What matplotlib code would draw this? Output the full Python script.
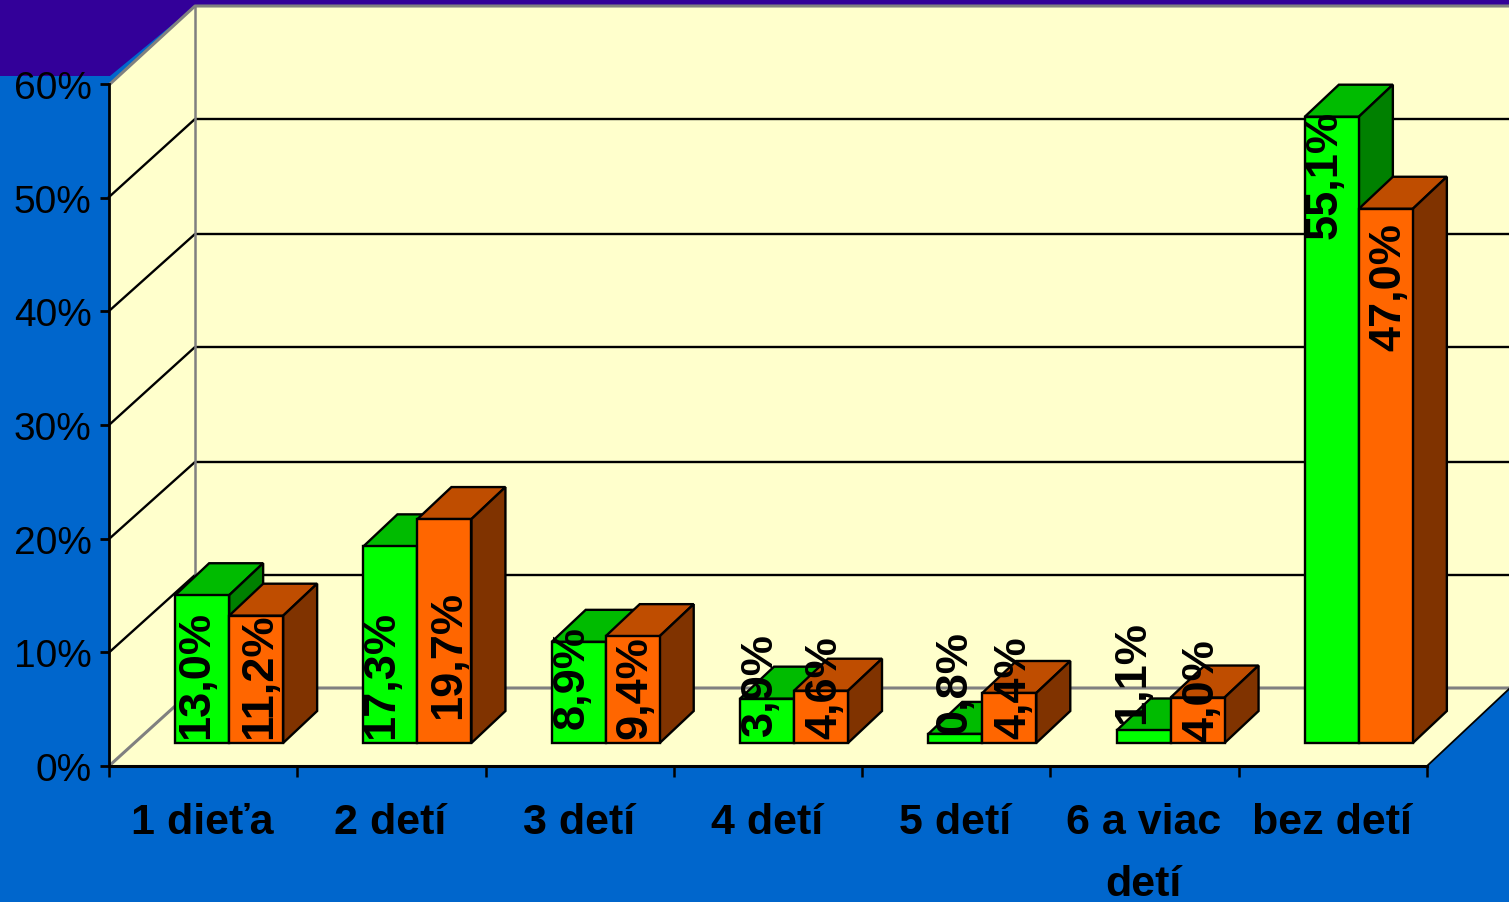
import matplotlib
matplotlib.use("Agg")
import matplotlib.pyplot as plt
import numpy as np

categories = ["1 dieťa", "2 detí", "3 detí", "4 detí", "5 detí", "6 a viac\ndetí", "bez detí"]
green_vals = [13.0, 17.3, 8.9, 3.9, 0.8, 1.1, 55.1]
orange_vals = [11.2, 19.7, 9.4, 4.6, 4.4, 4.0, 47.0]
green_labels = ["13,0%", "17,3%", "8,9%", "3,9%", "0,8%", "1,1%", "55,1%"]
orange_labels = ["11,2%", "19,7%", "9,4%", "4,6%", "4,4%", "4,0%", "47,0%"]
y_ticks = [0, 10, 20, 30, 40, 50, 60]

# label bottoms in pixels from the top of the image
green_lab_y = [739, 739, 729, 736, 734, 724, 239]
orange_lab_y = [739, 719, 739, 739, 739, 742, 351]
green_lab_x = [197, 382, 572, 760, 955, 1133, 1325]
orange_lab_x = [260, 449, 635, 825, 1014, 1202, 1389]

W, H = 1509, 903
plt.rcParams['font.family'] = ['Liberation Sans', 'DejaVu Sans']

fig = plt.figure(figsize=(W / 100, H / 100), dpi=100, facecolor='#0066CC')
# pixel overlay for wall and background
bg = fig.add_axes([0, 0, 1, 1], zorder=0)
bg.set_xlim(0, W)
bg.set_ylim(H, 0)
bg.axis('off')
bg.fill([0, 1509, 1509, 195, 110, 0], [0, 0, 7, 7, 77, 77], color='#330099', lw=0)
wall = '#FFFFCC'
bg.fill([195, 1509, 1509, 1427, 109, 109], [7, 7, 690, 767, 767, 85], color=wall, lw=0)
back_y = [689, 576, 463, 348, 235, 120]
front_y = [767, 653.5, 540, 426, 312, 198]
for yf, yb in zip(front_y[1:], back_y[1:]):
    bg.plot([109, 195, 1509], [yf, yb, yb], color='k', lw=1.7)
bg.plot([195, 195], [7, 689], color='#808080', lw=1.8)
bg.plot([109, 195, 1509], [767, 689, 689], color='#808080', lw=2.2)
bg.plot([110, 195, 1509], [85, 7, 7], color='#808080', lw=2.2)
bg.plot([1427, 1509], [767, 690], color='k', lw=1.3)

# main axes, front edge of the floor
ax = fig.add_axes([109 / W, 1 - 767 / H, (1427 - 109) / W, (767 - 85) / H], zorder=1)
ax.set_xlim(0, 7)
ax.set_ylim(0, 60)
ax.patch.set_alpha(0)
for s in ['top', 'right']:
    ax.spines[s].set_visible(False)
ax.spines['left'].set_linewidth(2)
ax.spines['bottom'].set_linewidth(2.2)

px = 7 / (1427 - 109)
py = 60 / (767 - 85)
bw = 54 * px
base = 23 * py
x0 = 26 * px
dx = 34 * px
dy = 32 * py
xc = np.arange(7) + 0.5 + x0
lw = 1.7


def draw_bars(xl, vals, front, top, side):
    for x, v in zip(xl, vals):
        t = v + base
        ax.fill([x, x + dx, x + bw + dx, x + bw], [t, t + dy, t + dy, t], facecolor=top, edgecolor='k', lw=lw,
                zorder=3, clip_on=False)
        ax.fill([x + bw, x + bw + dx, x + bw + dx, x + bw], [base, base + dy, t + dy, t], facecolor=side,
                edgecolor='k', lw=lw, zorder=3, clip_on=False)
    ax.bar(xl, vals, bw, bottom=base, align='edge', facecolor=front, edgecolor='k', lw=lw, zorder=4, clip_on=False)


for i in range(7):
    draw_bars([xc[i] - bw], [green_vals[i]], '#00FF00', '#00BB00', '#008000')
    draw_bars([xc[i]], [orange_vals[i]], '#FF6600', '#BF4D00', '#803300')

ax.set_xticks(np.arange(8))
ax.set_xticklabels([])
ax.set_yticks(y_ticks)
ax.set_yticklabels([f"{v}%" for v in y_ticks], fontsize=28, color='k')
ax.tick_params(axis='y', length=6.5, width=2, pad=6)
ax.tick_params(axis='x', length=8, width=1.8, direction='out')

for i, c in enumerate(categories):
    bg.text(i * 188.3 + 202, 803, c, ha='center', va='top', fontsize=31, fontweight='bold',
            color='k', linespacing=1.7)

top = fig.add_axes([0, 0, 1, 1], zorder=2)
top.set_xlim(0, W)
top.set_ylim(H, 0)
top.axis('off')
for i in range(7):
    top.text(green_lab_x[i], green_lab_y[i], green_labels[i], rotation=90, ha='center', va='bottom',
             fontsize=32.5, fontweight='bold', color='k')
    top.text(orange_lab_x[i], orange_lab_y[i], orange_labels[i], rotation=90, ha='center', va='bottom',
             fontsize=32.5, fontweight='bold', color='k')

fig.savefig("out.png", dpi=100, facecolor=fig.get_facecolor())
